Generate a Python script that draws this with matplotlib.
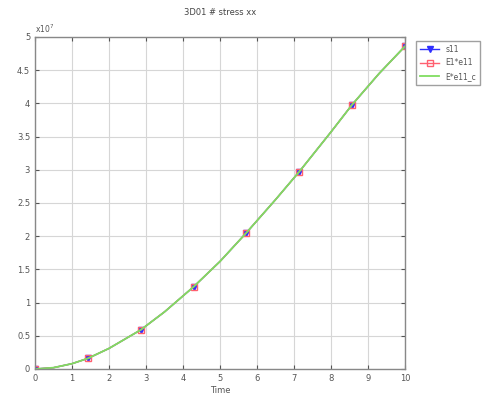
import numpy as np
import matplotlib.pyplot as plt

# sampled curve (values in units of 1e7)
time = [0, 0.5, 1.0, 1.43, 2.0, 2.86, 3.5, 4.29, 5.0, 5.71, 6.5, 7.14, 8.0, 8.57, 9.3, 10.0]
s11 = [0, 0.02, 0.08, 0.16, 0.31, 0.59, 0.86, 1.24, 1.62, 2.05, 2.55, 2.97, 3.57, 3.98, 4.45, 4.86]
e1e11 = [0, 0.02, 0.08, 0.16, 0.31, 0.59, 0.86, 1.24, 1.62, 2.05, 2.55, 2.97, 3.57, 3.98, 4.45, 4.86]
ee11c = [0, 0.02, 0.08, 0.16, 0.31, 0.59, 0.86, 1.24, 1.62, 2.05, 2.55, 2.97, 3.57, 3.98, 4.45, 4.86]

# points carrying markers
mark_idx = [0, 3, 5, 7, 9, 11, 13, 15]

scale = 1e7

fig = plt.figure(figsize=(4.83, 3.99), dpi=100)
ax = fig.add_axes([35 / 483, 30 / 399, 370 / 483, 332 / 399])

ax.plot(time, np.array(s11) * scale, color='#3030ff', marker='v', markersize=4,
        markevery=mark_idx, linewidth=1, label='s11')
ax.plot(time, np.array(e1e11) * scale, color='#ff6070', marker='s', markersize=5,
        markerfacecolor='none', markevery=mark_idx, linewidth=1, label='E1*e11')
ax.plot(time, np.array(ee11c) * scale, color='#80dd60', linewidth=1.3, label='E*e11_c')

ax.set_xlim(0, 10)
ax.set_ylim(0, 5e7)
ax.set_xticks(np.arange(0, 11, 1))
ax.set_yticks(np.arange(0, 5.01, 0.5) * scale)
ax.set_yticklabels(['0', '0.5', '1', '1.5', '2', '2.5', '3', '3.5', '4', '4.5', '5'])
ax.grid(True, color='#d6d6d6', linewidth=0.8)
ax.tick_params(direction='in', labelsize=6, colors='#555555', length=3,
               top=True, right=True)
for sp in ax.spines.values():
    sp.set_color('#888888')
    sp.set_linewidth(1.0)

ax.text(0.0, 1.005, r'x10$^7$', transform=ax.transAxes, fontsize=5.5,
        color='#555555', va='bottom', ha='left')
ax.set_xlabel('Time', fontsize=6, color='#555555', labelpad=2)
ax.set_title('3D01 # stress xx', fontsize=6, color='#444444', pad=16)

leg = ax.legend(loc='upper left', bbox_to_anchor=(1.02, 1.0), fontsize=5.5,
                frameon=True, fancybox=False, edgecolor='#888888',
                handlelength=2.5, borderpad=0.5, labelspacing=0.6)
for txt in leg.get_texts():
    txt.set_color('#555555')

fig.savefig('out.png', dpi=100)
